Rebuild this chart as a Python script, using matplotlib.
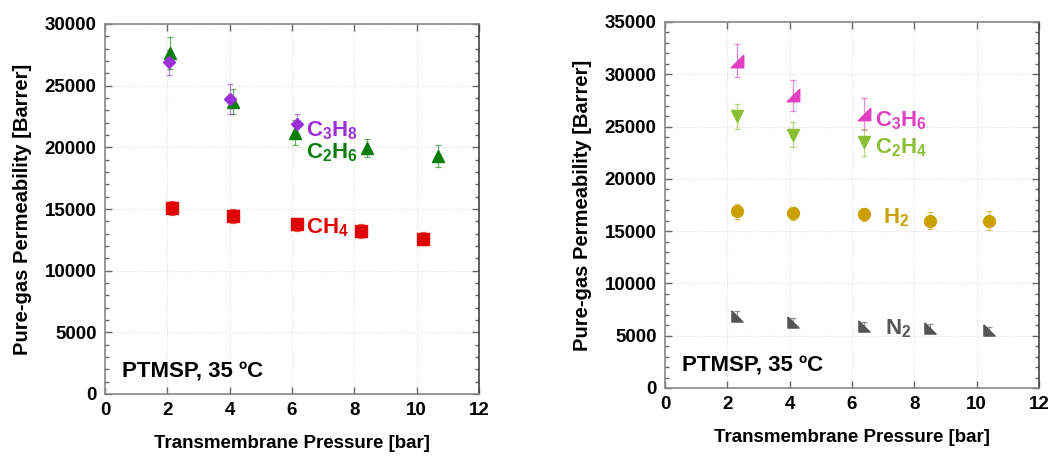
import matplotlib.pyplot as plt
from matplotlib.ticker import MultipleLocator

plt.rcParams['font.family'] = ['Liberation Sans', 'DejaVu Sans']
plt.rcParams['font.weight'] = 'bold'
plt.rcParams['axes.labelweight'] = 'bold'
plt.rcParams['mathtext.fontset'] = 'custom'
plt.rcParams['mathtext.rm'] = 'Liberation Sans:bold'
plt.rcParams['mathtext.bf'] = 'Liberation Sans:bold'
plt.rcParams['mathtext.it'] = 'Liberation Sans:bold'

# left panel data
c2h6_p = [2.1, 4.1, 6.1, 8.4, 10.7]
c2h6_perm = [27650, 23700, 21200, 19950, 19300]
c2h6_err = [1300, 1000, 1000, 700, 900]

c3h8_p = [2.05, 4.0, 6.15]
c3h8_perm = [26900, 23900, 21900]
c3h8_err = [1000, 1200, 800]

ch4_p = [2.15, 4.1, 6.15, 8.2, 10.2]
ch4_perm = [15100, 14450, 13750, 13200, 12600]
ch4_err = [550, 550, 550, 550, 550]

# right panel data
c3h6_p = [2.3, 4.1, 6.4]
c3h6_perm = [31300, 28000, 26200]
c3h6_err = [1600, 1500, 1500]

c2h4_p = [2.3, 4.1, 6.4]
c2h4_perm = [26000, 24200, 23500]
c2h4_err = [1200, 1200, 1300]

h2_p = [2.3, 4.1, 6.4, 8.5, 10.4]
h2_perm = [16900, 16700, 16600, 16000, 16000]
h2_err = [700, 600, 600, 800, 900]

n2_p = [2.3, 4.1, 6.4, 8.5, 10.4]
n2_perm = [6900, 6300, 5900, 5700, 5500]
n2_err = [450, 400, 400, 400, 350]

# right-angled triangle markers
tri_ul = [(-1, 1), (-1, -1), (1, -1), (-1, 1)]   # lower-left wedge (N2)
tri_lr = [(1, 1), (1, -1), (-1, -1), (1, 1)]     # lower-right wedge (C3H6)


def plot_series(ax, x, y, err, color, marker, ms):
    ax.errorbar(x, y, yerr=err, fmt='none', ecolor=color, elinewidth=0.9,
                capsize=2.5, capthick=0.9, alpha=0.6, zorder=2)
    ax.plot(x, y, linestyle='none', marker=marker, markersize=ms,
            color=color, markeredgecolor=color, zorder=3)


def style_axes(ax, ymax):
    ax.set_xlim(0, 12)
    ax.set_ylim(0, ymax)
    ax.xaxis.set_major_locator(MultipleLocator(2))
    ax.yaxis.set_major_locator(MultipleLocator(5000))
    ax.yaxis.set_minor_locator(MultipleLocator(1000))
    ax.tick_params(which='both', direction='in', top=True, right=True,
                   labelsize=13.5, color='#666666', pad=6)
    ax.tick_params(which='major', length=5, width=1)
    ax.tick_params(which='minor', length=3, width=1)
    ax.tick_params(axis='x', which='minor', bottom=False, top=False)
    for sp in ax.spines.values():
        sp.set_color('#888888')
        sp.set_linewidth(1.2)
    ax.spines['right'].set_color('#444444')
    ax.grid(True, which='major', linestyle=':', color='#dddddd', linewidth=0.8)
    ax.set_axisbelow(True)
    ax.set_xlabel('Transmembrane Pressure [bar]', fontsize=13.5,
                  fontweight='bold', labelpad=11)
    ax.set_ylabel('Pure-gas Permeability [Barrer]', fontsize=14.5,
                  fontweight='bold', labelpad=9)
    ax.text(0.55, 0.06 * ymax, 'PTMSP, 35 ºC', fontsize=16, va='center')


fig = plt.figure(figsize=(10.49, 4.59), dpi=100)
ax1 = fig.add_axes([105 / 1049, 1 - 394 / 459, 374 / 1049, 370 / 459])
ax2 = fig.add_axes([665 / 1049, 1 - 388 / 459, 374 / 1049, 366 / 459])

# left panel
plot_series(ax1, c2h6_p, c2h6_perm, c2h6_err, '#0b7d0b', '^', 8.5)
plot_series(ax1, c3h8_p, c3h8_perm, c3h8_err, '#9b30d8', 'D', 6.5)
plot_series(ax1, ch4_p, ch4_perm, ch4_err, '#e00000', 's', 8.5)
ax1.text(6.45, 21350, r'C$_3$H$_8$', color='#9b30d8', fontsize=16, va='center')
ax1.text(6.45, 19550, r'C$_2$H$_6$', color='#0b7d0b', fontsize=16, va='center')
ax1.text(6.45, 13450, r'CH$_4$', color='#e00000', fontsize=16, va='center')
style_axes(ax1, 30000)

# right panel
plot_series(ax2, c3h6_p, c3h6_perm, c3h6_err, '#e040c0', tri_lr, 9)
plot_series(ax2, c2h4_p, c2h4_perm, c2h4_err, '#8cbd34', 'v', 9)
plot_series(ax2, h2_p, h2_perm, h2_err, '#c9a000', 'o', 8.5)
plot_series(ax2, n2_p, n2_perm, n2_err, '#555555', tri_ul, 8)
ax2.text(6.75, 25600, r'C$_3$H$_6$', color='#e040c0', fontsize=16, va='center')
ax2.text(6.75, 22950, r'C$_2$H$_4$', color='#8cbd34', fontsize=16, va='center')
ax2.text(7.0, 16250, r'H$_2$', color='#c9a000', fontsize=16, va='center')
ax2.text(7.05, 5650, r'N$_2$', color='#555555', fontsize=16, va='center')
style_axes(ax2, 35000)

fig.savefig('out.png', dpi=100)
